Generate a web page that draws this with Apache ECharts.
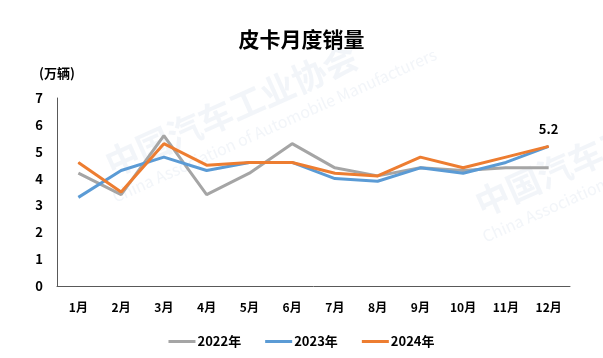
<!DOCTYPE html>
<html><head><meta charset="utf-8">
<script src="https://cdn.jsdelivr.net/npm/echarts@6/dist/echarts.min.js"></script>
<style>html,body{margin:0;padding:0;background:#fff}#c{width:603px;height:358px}</style>
</head><body><div id="c"></div>
<script>
const months = ['1月','2月','3月','4月','5月','6月','7月','8月','9月','10月','11月','12月'];
const s2022 = [4.2,3.4,5.6,3.4,4.2,5.3,4.4,4.1,4.4,4.3,4.4,4.4];
const s2023 = [3.3,4.3,4.8,4.3,4.6,4.6,4.0,3.9,4.4,4.2,4.6,5.2];
const s2024 = [4.6,3.5,5.3,4.5,4.6,4.6,4.2,4.1,4.8,4.4,4.8,5.2];
const font = '"Noto Sans CJK SC", "Noto Sans", sans-serif';
const chart = echarts.init(document.getElementById('c'));
const wm = (x, y) => ([
  {type:'text', x:x, y:y, rotation:0.42, z:-1, style:{text:'中国汽车工业协会', font:'bold 34px '+font, fill:'rgba(205,215,230,0.25)'}},
  {type:'text', x:x+10, y:y+40, rotation:0.42, z:-1, style:{text:'China Association of Automobile Manufacturers', font:'16px '+font, fill:'rgba(205,215,230,0.25)'}}
]);
chart.setOption({
  animation:false,
  title:{text:'皮卡月度销量', left:'center', top:24, textStyle:{fontFamily:font, fontSize:21, fontWeight:'bold', color:'#000'}},
  graphic:[...wm(100,150), ...wm(470,190)],
  legend:{bottom:5, left:'center', itemWidth:27, itemHeight:3, itemGap:24, icon:'rect',
    textStyle:{fontFamily:font, fontSize:13, fontWeight:'bold', color:'#000', padding:[0,0,0,-3]},
    data:['2022年','2023年','2024年']},
  grid:{left:57, right:33, top:98, bottom:72},
  xAxis:{type:'category', data:months, boundaryGap:true,
    axisLine:{lineStyle:{color:'#595959', width:1}}, axisTick:{show:false},
    axisLabel:{fontFamily:font, fontSize:12, fontWeight:'bold', color:'#000', margin:15}},
  yAxis:{type:'value', min:0, max:7, interval:1, name:'(万辆)', nameLocation:'end', nameGap:18,
    nameTextStyle:{fontFamily:font, fontSize:13, fontWeight:'bold', color:'#000', align:'center', padding:[0,0,0,0]},
    axisLine:{show:true, lineStyle:{color:'#595959', width:1}}, axisTick:{show:false}, splitLine:{show:false},
    axisLabel:{fontFamily:font, fontSize:13, fontWeight:'bold', color:'#000', margin:14}},
  series:[
    {name:'2022年', type:'line', data:s2022, symbol:'none', lineStyle:{width:3, color:'#A5A5A5'}, itemStyle:{color:'#A5A5A5'}},
    {name:'2023年', type:'line', data:s2023, symbol:'none', lineStyle:{width:3, color:'#5B9BD5'}, itemStyle:{color:'#5B9BD5'}},
    {name:'2024年', type:'line', data:s2024, symbol:'circle', symbolSize:1, showSymbol:true, lineStyle:{width:3, color:'#ED7D31'}, itemStyle:{color:'#ED7D31'},
      label:{show:true, position:'top', distance:10, fontFamily:font, fontSize:13, fontWeight:'bold', color:'#000',
        formatter:p => p.dataIndex === 11 ? String(p.value) : ''}}
  ]
});
</script></body></html>
